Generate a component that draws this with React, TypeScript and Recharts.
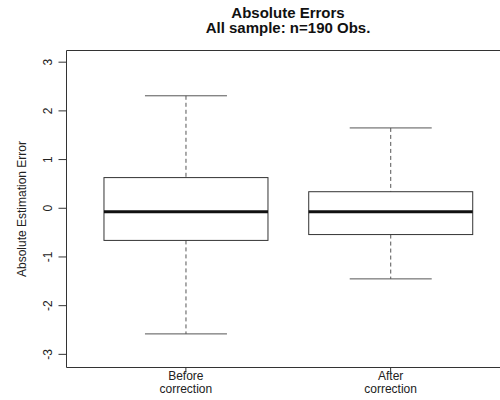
import React from "react";
import { ComposedChart, Bar, XAxis, YAxis } from "recharts";

// values
const groups = ["Before correction", "After correction"];
const lowerWhisker = [-2.58, -1.45];
const lowerQuartile = [-0.66, -0.54];
const medians = [-0.07, -0.07];
const upperQuartile = [0.63, 0.34];
const upperWhisker = [2.31, 1.65];
const yTicks = [-3, -2, -1, 0, 1, 2, 3];

const titleLines = ["Absolute Errors", "All sample: n=190 Obs."];
const yLabel = "Absolute Estimation Error";

const FONT = "'Liberation Sans', Arial, Helvetica, sans-serif";

const data = groups.map((group, i) => ({
  group,
  range: [lowerWhisker[i], upperWhisker[i]],
  lo: lowerWhisker[i],
  q1: lowerQuartile[i],
  med: medians[i],
  q3: upperQuartile[i],
  hi: upperWhisker[i],
}));

// the bar spans lo..hi, so the box parts are placed along that same scale
function BoxShape(props: any) {
  const { x, y, width, height, payload } = props;
  const top = Math.min(y, y + height);
  const bottom = Math.max(y, y + height);
  const px = (v: number) =>
    bottom - ((v - payload.lo) / (payload.hi - payload.lo)) * (bottom - top);
  const cx = x + width / 2;
  const half = width / 4;
  return (
    <g>
      <line x1={cx} x2={cx} y1={px(payload.hi)} y2={px(payload.q3)} stroke="#555" strokeDasharray="4 3" />
      <line x1={cx} x2={cx} y1={px(payload.q1)} y2={px(payload.lo)} stroke="#555" strokeDasharray="4 3" />
      <line x1={cx - half} x2={cx + half} y1={px(payload.hi)} y2={px(payload.hi)} stroke="#555" />
      <line x1={cx - half} x2={cx + half} y1={px(payload.lo)} y2={px(payload.lo)} stroke="#555" />
      <rect
        x={x}
        y={px(payload.q3)}
        width={width}
        height={px(payload.q1) - px(payload.q3)}
        fill="#fff"
        stroke="#333"
      />
      <line x1={x} x2={x + width} y1={px(payload.med)} y2={px(payload.med)} stroke="#111" strokeWidth={3} />
    </g>
  );
}

function YTick(props: any) {
  const { x, y, payload } = props;
  return (
    <text
      x={x}
      y={y}
      transform={`rotate(-90 ${x} ${y})`}
      textAnchor="middle"
      fontSize={12}
      fontFamily={FONT}
      fill="#222"
    >
      {payload.value}
    </text>
  );
}

function XTick(props: any) {
  const { x, y, payload } = props;
  const words = String(payload.value).split(" ");
  return (
    <text x={x} y={y} textAnchor="middle" fontSize={12} fontFamily={FONT} fill="#222">
      <tspan x={x} dy="0.45em">{words[0]}</tspan>
      <tspan x={x} dy="1.1em">{words[1]}</tspan>
    </text>
  );
}

function YLabel(props: any) {
  const vb = props.viewBox;
  const x = vb.x + 25;
  const y = vb.y + vb.height / 2;
  return (
    <text
      x={x}
      y={y}
      transform={`rotate(-90 ${x} ${y})`}
      textAnchor="middle"
      fontSize={12}
      fontFamily={FONT}
      fill="#222"
    >
      {yLabel}
    </text>
  );
}

export default function App() {
  return (
    <div style={{ position: "absolute", left: 0, top: 0, width: 500, height: 400, overflow: "hidden", background: "#fff" }}>
      <svg width={500} height={48} style={{ position: "absolute", left: 0, top: 0 }}>
        <text x={288} y={17.5} textAnchor="middle" fontSize={15} fontWeight="bold" fontFamily={FONT} fill="#111">
          {titleLines[0]}
        </text>
        <text x={288} y={33} textAnchor="middle" fontSize={15} fontWeight="bold" fontFamily={FONT} fill="#111">
          {titleLines[1]}
        </text>
      </svg>
      <ComposedChart
        width={511}
        height={400}
        data={data}
        margin={{ top: 49.5, right: 1, bottom: 0, left: 0.5 }}
        barCategoryGap="10%"
      >
        <XAxis
          dataKey="group"
          height={32.5}
          padding={{ left: 17, right: 17 }}
          tickSize={5}
          tickMargin={2}
          stroke="#333"
          tick={<XTick />}
        />
        <XAxis xAxisId="top" dataKey="group" orientation="top" height={1} tick={false} tickLine={false} stroke="#333" />
        <YAxis
          type="number"
          domain={[-3.27, 3.24]}
          ticks={yTicks}
          width={66}
          tickSize={8}
          tickMargin={6}
          stroke="#333"
          tick={<YTick />}
          label={{ content: (p: any) => <YLabel {...p} /> }}
        />
        <Bar dataKey="range" fill="#fff" shape={BoxShape} isAnimationActive={false} />
      </ComposedChart>
    </div>
  );
}
